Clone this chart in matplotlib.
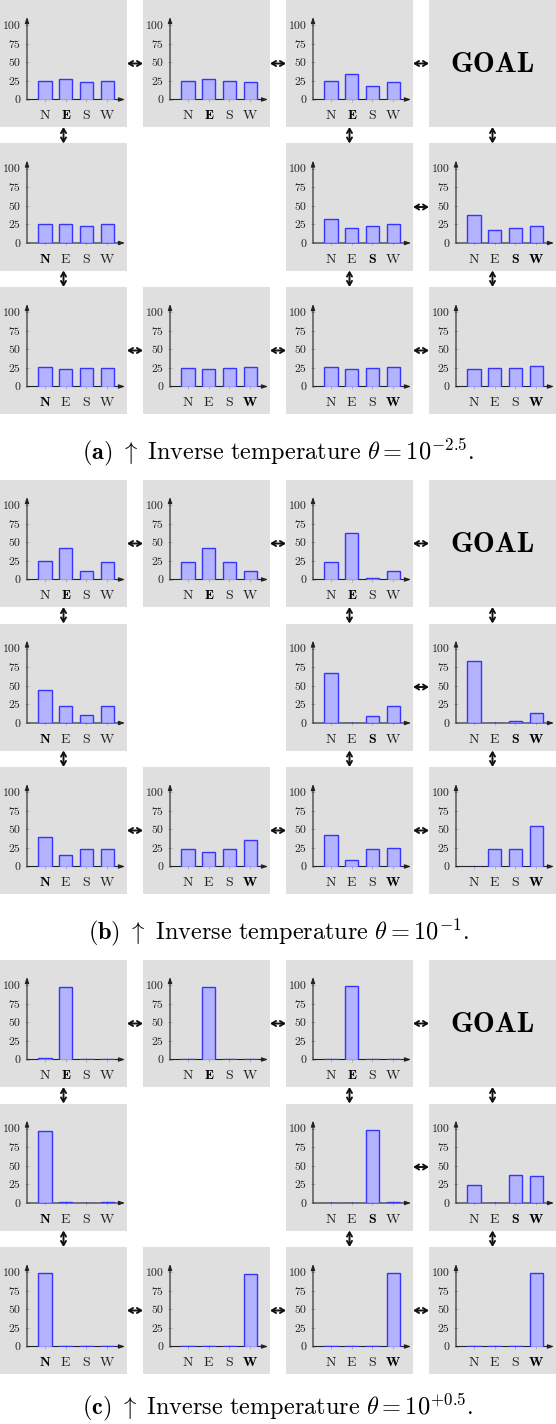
import matplotlib.pyplot as plt
from matplotlib.patches import Rectangle, FancyArrowPatch

plt.rcParams['mathtext.fontset'] = 'cm'
plt.rcParams['font.family'] = 'cmr10'
plt.rcParams['axes.formatter.use_mathtext'] = True

W, H = 556, 1424

actions = ['N', 'E', 'S', 'W']
yticks = [0, 25, 50, 75, 100]

# grid cells (row, col) that hold a bar chart, in row-major order
cells = [(0, 0), (0, 1), (0, 2),
         (1, 0), (1, 2), (1, 3),
         (2, 0), (2, 1), (2, 2), (2, 3)]
goal = (0, 3)
# best action(s) per cell, shown in bold
best = ['E', 'E', 'E', 'N', 'S', 'SW', 'N', 'W', 'W', 'W']

# horizontal links (row, col) <-> (row, col+1), vertical links (row, col) <-> (row+1, col)
h_links = [(0, 0), (0, 1), (0, 2), (1, 2), (2, 0), (2, 1), (2, 2)]
v_links = [(0, 0), (0, 2), (0, 3), (1, 0), (1, 2), (1, 3)]

# action probabilities (%) N, E, S, W per cell
probs_a = [[25, 27, 23, 25], [25, 27, 25, 23], [25, 34, 18, 23],
           [26, 25, 23, 25], [32, 20, 23, 25], [38, 18, 20, 23],
           [26, 24, 25, 25], [25, 24, 25, 26], [26, 23, 25, 26], [23, 25, 25, 27]]
probs_b = [[25, 43, 11, 23], [23, 43, 23, 12], [23, 63, 2, 12],
           [44, 23, 11, 23], [67, 0, 9, 23], [84, 0, 3, 13],
           [40, 15, 23, 23], [23, 20, 23, 35], [43, 9, 23, 25], [0, 23, 23, 55]]
probs_c = [[1.5, 97, 0.3, 1], [1, 98, 1, 0.3], [1, 99, 0.3, 0.3],
           [97, 1, 0.3, 1], [0.3, 0.3, 98.5, 1], [24, 0, 38, 37],
           [98.5, 0.3, 1, 1], [1, 0.3, 1, 98], [0.3, 0.3, 1, 99.5], [0.3, 1, 1, 98.5]]

captions = [r'$\mathbf{(a)}\ \uparrow\ \mathrm{Inverse\ temperature}\ \theta = 10^{-2.5}.$',
            r'$\mathbf{(b)}\ \uparrow\ \mathrm{Inverse\ temperature}\ \theta = 10^{-1}.$',
            r'$\mathbf{(c)}\ \uparrow\ \mathrm{Inverse\ temperature}\ \theta = 10^{+0.5}.$']
caption_base = [459, 939, 1414]
panels = [probs_a, probs_b, probs_c]

col_x = [0, 143, 286, 429]
row_off = [0, 143.5, 287]
cell_w, cell_h = 127, 127
panel_step = 480


def fig_rect(x, y_top, w, h):
    return [x / W, 1 - (y_top + h) / H, w / W, h / H]


def fx(x):
    return x / W


def fy(y):
    return 1 - y / H


fig = plt.figure(figsize=(W / 100, H / 100), dpi=100)
link_style = '<->,head_length=3,head_width=1.8'

for p, probs in enumerate(panels):
    top = p * panel_step
    # gray cell backgrounds
    for (r, c) in cells + [goal]:
        x0, y0 = col_x[c], top + row_off[r]
        fig.add_artist(Rectangle((fx(x0), fy(y0 + cell_h)), cell_w / W, cell_h / H,
                                 transform=fig.transFigure, facecolor='#dfdfdf',
                                 edgecolor='none', zorder=0))

    gx, gy = col_x[goal[1]], top + row_off[goal[0]]
    fig.text(fx(gx + cell_w / 2), fy(gy + cell_h / 2 + 1), 'GOAL', family='cmb10',
             fontsize=21, ha='center', va='center')

    for i, (r, c) in enumerate(cells):
        x0, y0 = col_x[c], top + row_off[r]
        ax = fig.add_axes(fig_rect(x0 + 27, y0 + 17, 98, 82.5))
        ax.set_facecolor('none')
        ax.bar(range(4), probs[i], width=0.63, color='#b3b3ff',
               edgecolor='#3535ff', linewidth=1.0, zorder=5)
        ax.set_xlim(-0.87, 3.86)
        ax.set_ylim(0, 111)
        for s in ax.spines.values():
            s.set_visible(False)
        arrow = dict(arrowstyle='-|>,head_length=0.35,head_width=0.12',
                     color='#222222', lw=0.8, shrinkA=0, shrinkB=0)
        ax.annotate('', xy=(0, 1), xytext=(0, 0), xycoords='axes fraction',
                    arrowprops=arrow, zorder=4)
        ax.annotate('', xy=(1, 0), xytext=(0, 0), xycoords='axes fraction',
                    arrowprops=arrow, zorder=4)
        ax.set_yticks(yticks)
        ax.set_yticklabels([str(v) for v in yticks], fontsize=8.5, color='#222222')
        ax.set_xticks(range(4))
        ax.set_xticklabels(actions, fontsize=10, color='#222222')
        for lab in ax.get_xticklabels():
            if lab.get_text() in best[i]:
                lab.set_family('cmb10')
                lab.set_color('black')
        ax.tick_params(axis='y', direction='inout', length=3.5, width=0.6,
                       color='#aaaaaa', pad=3)
        ax.tick_params(axis='x', direction='inout', length=3.5, width=0.6,
                       color='#aaaaaa', pad=6)

    # links between neighbouring cells
    for (r, c) in h_links:
        y = top + row_off[r] + cell_h / 2
        xa, xb = col_x[c] + cell_w, col_x[c + 1]
        fig.add_artist(FancyArrowPatch(
            (fx(xa), fy(y)), (fx(xb), fy(y)), transform=fig.transFigure,
            arrowstyle=link_style, color='#111111', lw=1.4, shrinkA=0, shrinkB=0))
    for (r, c) in v_links:
        x = col_x[c] + cell_w / 2
        ya, yb = top + row_off[r] + cell_h, top + row_off[r + 1]
        fig.add_artist(FancyArrowPatch(
            (fx(x), fy(ya)), (fx(x), fy(yb)), transform=fig.transFigure,
            arrowstyle=link_style, color='#111111', lw=1.4, shrinkA=0, shrinkB=0))

    fig.text(0.5, fy(caption_base[p]), captions[p], fontsize=17.5, ha='center',
             va='baseline')

fig.savefig('out.png', dpi=100)
